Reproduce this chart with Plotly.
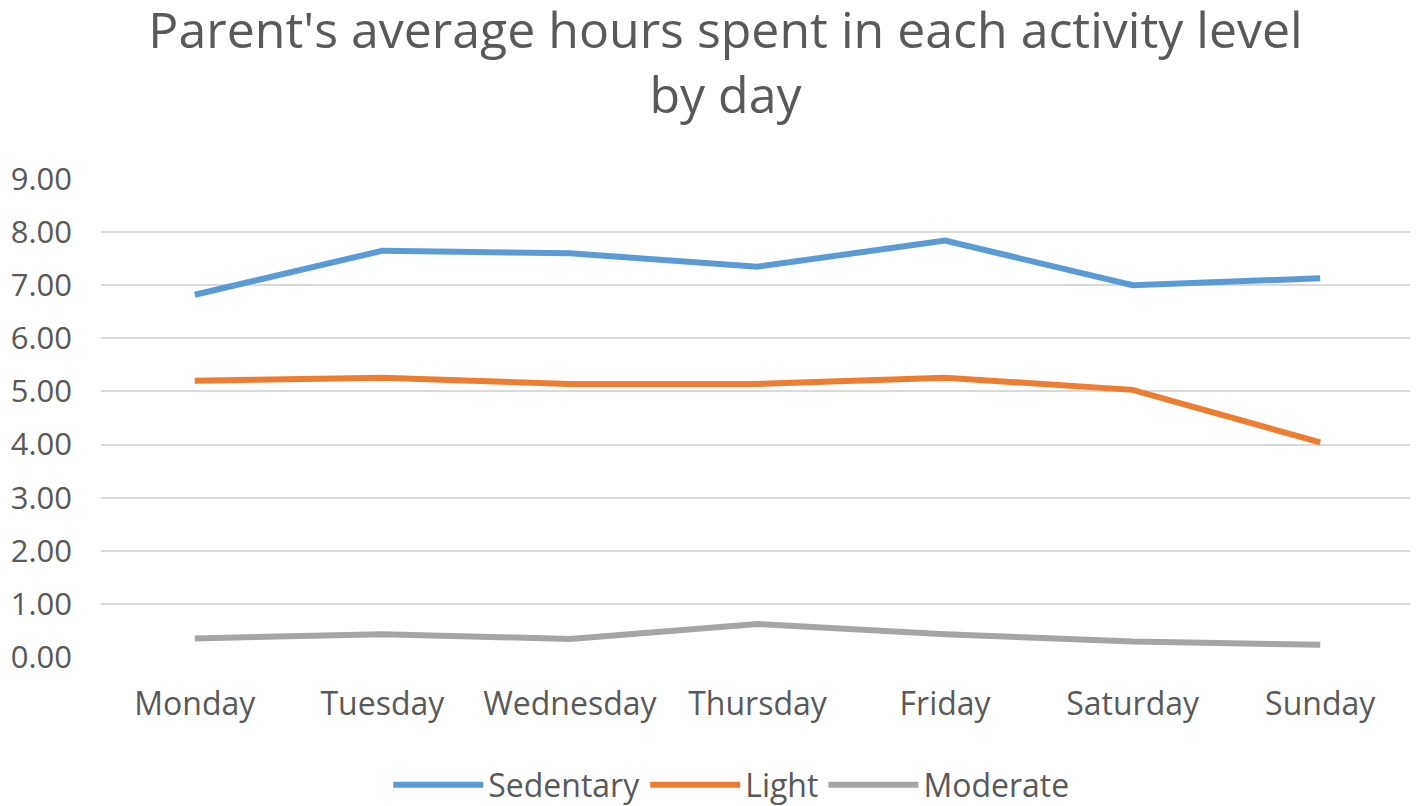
import plotly.graph_objects as go

days = ["Monday", "Tuesday", "Wednesday", "Thursday", "Friday", "Saturday", "Sunday"]
sedentary = [6.82, 7.65, 7.60, 7.35, 7.84, 7.00, 7.13]
light = [5.20, 5.26, 5.14, 5.14, 5.26, 5.03, 4.04]
moderate = [0.35, 0.43, 0.34, 0.62, 0.43, 0.29, 0.23]

series = [("Sedentary", sedentary, "#5B9BD5"),
          ("Light", light, "#ED7D31"),
          ("Moderate", moderate, "#A5A5A5")]

fig = go.Figure()
for name, vals, color in series:
    fig.add_trace(go.Scatter(x=days, y=vals, mode="lines", name=name,
                             line=dict(color=color, width=6)))

fig.update_layout(
    width=1418, height=806,
    paper_bgcolor="white", plot_bgcolor="white",
    margin=dict(l=93, r=12, t=171, b=157, autoexpand=False),
    font=dict(family="Open Sans", color="#595959", size=32),
    title=dict(text="Parent's average hours spent in each activity level<br>by day",
               x=0.506, xanchor="center", y=0.95, yanchor="top",
               font=dict(size=50, color="#595959")),
    legend=dict(orientation="h", x=0.48, xanchor="center", y=-0.21, yanchor="top",
                font=dict(size=32, color="#595959"), itemwidth=90),
    showlegend=True,
)
fig.update_xaxes(showgrid=False, showline=False, ticks="", range=[-0.5, 6.5],
                 ticklabelstandoff=25, automargin=False)
fig.update_yaxes(range=[0, 9], dtick=1, tickformat=".2f", showgrid=True,
                 gridcolor="#D9D9D9", gridwidth=2, zeroline=False,
                 ticklabelstandoff=28, tickfont=dict(size=31), automargin=False)

fig.write_html("out.html")
